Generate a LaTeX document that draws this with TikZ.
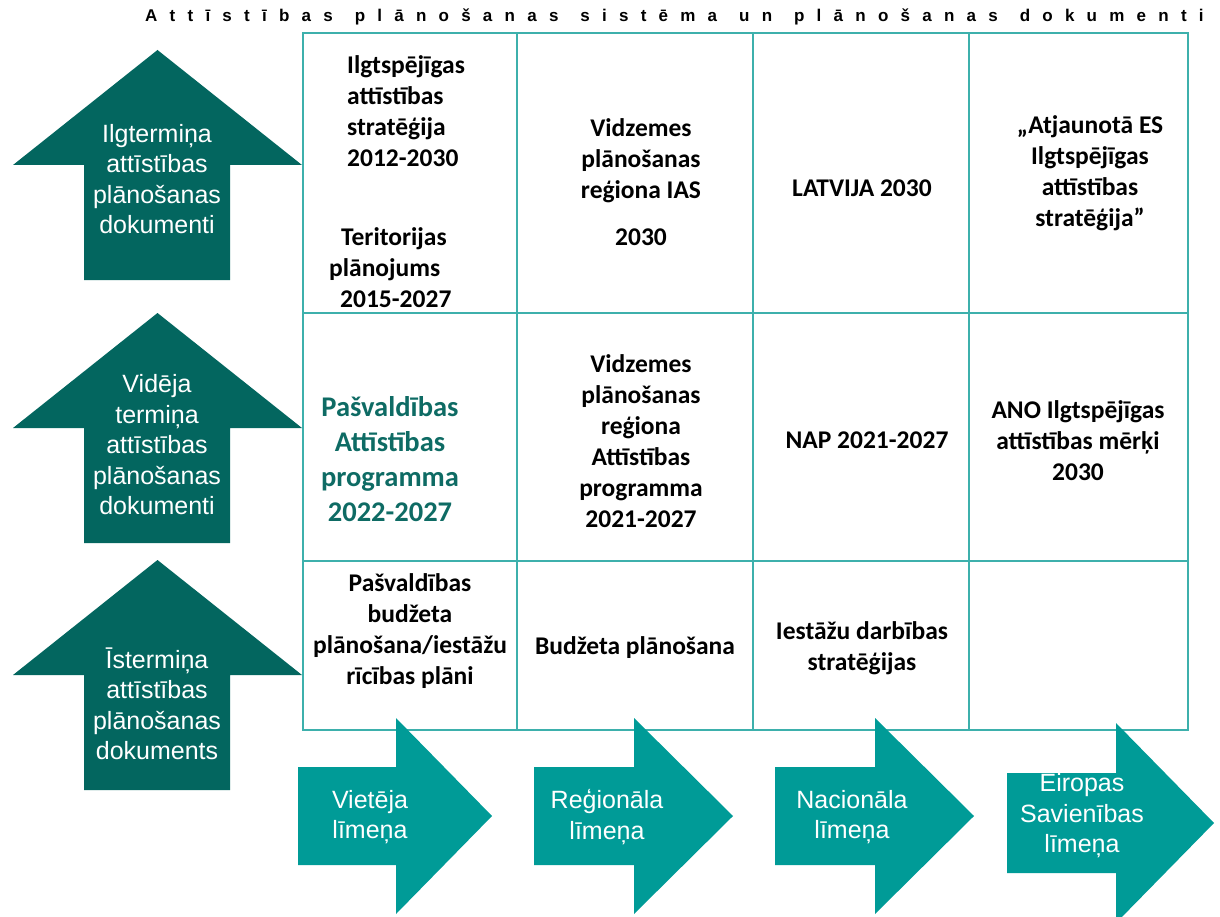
\documentclass[tikz,border=0pt]{standalone}
\usepackage{fontspec}
\setmainfont{Carlito}
\newfontfamily\arialf{Liberation Sans}
\newfontfamily\titlef[LetterSpace=72]{Liberation Sans}
\definecolor{darkteal}{HTML}{03665F}
\definecolor{midteal}{HTML}{009B97}
\definecolor{gridteal}{HTML}{3DB0AC}
\definecolor{textteal}{HTML}{0E6B64}
\newcommand{\wsp}{ \hspace{5pt}}
\begin{document}
\begin{tikzpicture}[x=1pt,y=-1pt,
  cell/.style={font=\bfseries\fontsize{25.5}{31}\selectfont, align=center, inner sep=0pt, text=black},
  tealcell/.style={font=\bfseries\fontsize{28.5}{35}\selectfont, align=center, inner sep=0pt, text=textteal},
  arrtext/.style={font=\arialf\fontsize{25}{30.5}\selectfont, text=white, align=center, inner sep=0pt},
  upfill/.style={fill=darkteal},
  rtfill/.style={fill=midteal},
  gridl/.style={draw=gridteal, line width=2pt}]
\useasboundingbox (0,0) rectangle (1220,917);

% title
\node[anchor=west, inner sep=0pt, font=\titlef\bfseries\fontsize{17}{20}\selectfont] (title) at (145,17) {Attīstības\wsp plānošanas\wsp sistēma\wsp un\wsp plānošanas\wsp dokumenti};

% grid
\draw[gridl] (303,33) rectangle (1188,730);
\draw[gridl] (517,33) -- (517,730);
\draw[gridl] (753,33) -- (753,730);
\draw[gridl] (969,33) -- (969,730);
\draw[gridl] (303,313) -- (1188,313);
\draw[gridl] (303,561) -- (1188,561);

% up arrows
\foreach \t in {50,313,560}{
  \path[upfill] (84,{\t+230}) -- (84,{\t+115}) -- (13,{\t+115}) -- (157.5,\t) -- (302,{\t+115}) -- (230,{\t+115}) -- (230,{\t+230}) -- cycle;
}
\node[arrtext] (up1) at (157,179) {Ilgtermiņa\\attīstības\\plānošanas\\dokumenti};
\node[arrtext] (up2) at (157,445) {Vidēja\\termiņa\\attīstības\\plānošanas\\dokumenti};
\node[arrtext] (up3) at (157,704) {Īstermiņa\\attīstības\\plānošanas\\dokuments};

% right arrows
\path[rtfill] (298,767) -- (396,767) -- (396,718) -- (492,816) -- (396,914) -- (396,865) -- (298,865) -- cycle;
\path[rtfill] (534,767) -- (634,767) -- (634,718) -- (733,816) -- (634,914) -- (634,865) -- (534,865) -- cycle;
\path[rtfill] (775,767) -- (875,767) -- (875,718) -- (974,816) -- (875,914) -- (875,865) -- (775,865) -- cycle;
\path[rtfill] (1007,773) -- (1116,773) -- (1116,723) -- (1214,823) -- (1116,923) -- (1116,873) -- (1007,873) -- cycle;
\node[arrtext] (lv1) at (370,817) {Vietēja\\līmeņa};
\node[arrtext] (lv2) at (607,817) {Reģionāla\\līmeņa};
\node[arrtext] (lv3) at (852,817) {Nacionāla\\līmeņa};
\node[arrtext] (lv4) at (1082,816) {Eiropas\\Savienības\\līmeņa};

% row 1
\node[cell, align=left, anchor=west] (c11a) at (347,111.5) {Ilgtspējīgas\\attīstības\\stratēģija\\2012-2030};
\node[cell, align=left, anchor=west] (c11b) at (329,268) {\hspace{12pt}Teritorijas\\plānojums\\\hspace{11pt}2015-2027};
\node[cell] (c12) at (641,182) {Vidzemes\\plānošanas\\reģiona IAS\\[16pt]2030};
\node[cell] (c13) at (862,188) {LATVIJA 2030};
\node[cell] (c14) at (1090,173) {„Atjaunotā ES\\Ilgtspējīgas\\attīstības\\stratēģija”};

% row 2
\node[tealcell] (c21) at (390,459) {Pašvaldības\\Attīstības\\programma\\2022-2027};
\node[cell] (c22) at (641,441.5) {Vidzemes\\plānošanas\\reģiona\\Attīstības\\programma\\2021-2027};
\node[cell] (c23) at (867,440) {NAP 2021-2027};
\node[cell] (c24) at (1078,441) {ANO Ilgtspējīgas\\attīstības mērķi\\2030};

% row 3
\node[cell] (c31) at (410,631) {Pašvaldības\\budžeta\\plānošana/iestāžu\\rīcības plāni};
\node[cell] (c32) at (635,648) {Budžeta plānošana};
\node[cell] (c33) at (862,648.5) {Iestāžu darbības\\stratēģijas};
\end{tikzpicture}
\end{document}
